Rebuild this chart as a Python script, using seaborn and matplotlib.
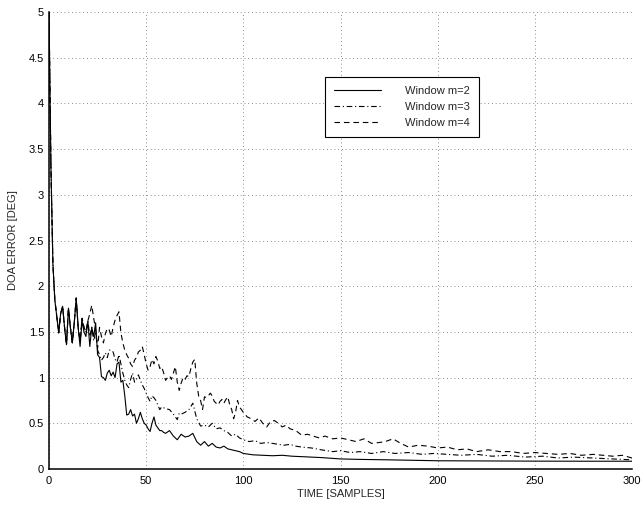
import numpy as np
import pandas as pd
import matplotlib
matplotlib.use("Agg")
import matplotlib.pyplot as plt
import seaborn as sns

# ---- data ----
t_m2 = [0, 1, 2, 3, 5, 6, 7, 8, 9, 10, 11, 12, 13, 14, 15, 16, 17, 18, 19, 20,
        21, 22, 23, 24, 25, 26, 27, 28, 29, 30, 31, 32, 33, 34, 35, 36, 37, 38, 39, 40,
        41, 42, 43, 44, 45, 46, 47, 48, 49, 50, 51, 52, 53, 54, 55, 56, 57, 58, 59, 60,
        62, 64, 66, 68, 70, 72, 74, 76, 78, 80, 82, 84, 86, 88, 90, 92, 94, 96, 98, 100,
        105, 110, 115, 120, 125, 130, 140, 150, 160, 175, 200, 225, 250, 275, 300]
err_m2 = [5.0, 3.3, 2.25, 1.85, 1.49, 1.70, 1.78, 1.55, 1.36, 1.76, 1.55, 1.38, 1.60, 1.87, 1.55, 1.34, 1.62, 1.50, 1.45, 1.62,
          1.34, 1.55, 1.45, 1.60, 1.25, 1.22, 1.01, 1.00, 0.97, 1.05, 1.08, 1.02, 1.06, 1.00, 1.15, 1.17, 0.95, 0.97, 0.80, 0.59,
          0.60, 0.65, 0.58, 0.60, 0.50, 0.55, 0.62, 0.55, 0.50, 0.48, 0.44, 0.41, 0.50, 0.57, 0.48, 0.45, 0.42, 0.42, 0.40, 0.39,
          0.42, 0.36, 0.32, 0.38, 0.35, 0.36, 0.39, 0.30, 0.26, 0.30, 0.25, 0.28, 0.24, 0.23, 0.25, 0.22, 0.21, 0.20, 0.19, 0.17,
          0.155, 0.15, 0.145, 0.15, 0.14, 0.135, 0.125, 0.11, 0.105, 0.10, 0.09, 0.088, 0.086, 0.085, 0.085]

t_m3 = [0, 1, 2, 3, 5, 6, 7, 8, 9, 10, 11, 12, 13, 14, 15, 16, 17, 18, 19, 20,
        21, 22, 23, 24, 25, 26, 27, 28, 29, 30, 31, 32, 33, 34, 35, 36, 37, 38, 39, 40,
        41, 42, 43, 44, 45, 46, 47, 48, 49, 50, 51, 52, 53, 54, 55, 56, 57, 58, 60, 62,
        64, 66, 67, 68, 70, 72, 74, 76, 78, 80, 82, 84, 86, 88, 90, 92, 94, 96, 98, 100,
        103, 106, 109, 112, 115, 118, 121, 124, 127, 130, 135, 140, 146, 150, 155, 160, 166, 172, 178, 185,
        192, 198, 205, 212, 220, 228, 236, 245, 254, 262, 270, 280, 290, 300]
err_m3 = [5.0, 3.3, 2.25, 1.85, 1.49, 1.70, 1.78, 1.55, 1.36, 1.76, 1.55, 1.38, 1.60, 1.87, 1.55, 1.40, 1.65, 1.55, 1.50, 1.62,
          1.45, 1.55, 1.40, 1.50, 1.30, 1.25, 1.19, 1.22, 1.27, 1.22, 1.30, 1.30, 1.28, 1.20, 1.17, 1.25, 1.15, 1.05, 0.97, 0.92,
          0.89, 0.98, 1.05, 0.95, 0.98, 1.03, 0.97, 0.92, 0.88, 0.83, 0.78, 0.74, 0.80, 0.78, 0.75, 0.70, 0.65, 0.68, 0.66, 0.65,
          0.60, 0.54, 0.61, 0.60, 0.62, 0.65, 0.72, 0.55, 0.47, 0.48, 0.46, 0.50, 0.44, 0.45, 0.42, 0.40, 0.36, 0.38, 0.34, 0.32,
          0.30, 0.31, 0.28, 0.29, 0.28, 0.27, 0.26, 0.27, 0.25, 0.24, 0.23, 0.21, 0.19, 0.20, 0.18, 0.19, 0.17, 0.19, 0.17, 0.18,
          0.16, 0.17, 0.16, 0.15, 0.16, 0.14, 0.15, 0.13, 0.14, 0.12, 0.13, 0.12, 0.11, 0.10]

t_m4 = [0, 1, 2, 3, 5, 6, 7, 8, 9, 10, 11, 12, 13, 14, 15, 16, 17, 18, 19, 20,
        21, 22, 23, 24, 25, 26, 27, 28, 29, 30, 31, 32, 33, 34, 35, 36, 37, 38, 39, 40,
        41, 42, 43, 44, 45, 46, 47, 48, 49, 50, 51, 52, 53, 54, 55, 56, 57, 58, 59, 60,
        61, 62, 63, 64, 65, 66, 67, 68, 69, 70, 71, 72, 73, 74, 75, 76, 77, 78, 79, 80,
        81, 82, 83, 84, 85, 86, 87, 88, 89, 90, 91, 92, 93, 94, 95, 96, 97, 98, 100, 102,
        104, 106, 108, 110, 112, 114, 116, 118, 120, 122, 124, 127, 130, 133, 136, 139, 142, 146, 150, 154,
        158, 162, 166, 170, 173, 177, 181, 185, 190, 195, 200, 205, 210, 215, 220, 226, 232, 238, 244, 250,
        256, 262, 268, 274, 280, 285, 290, 295, 300]
err_m4 = [5.0, 3.3, 2.25, 1.85, 1.49, 1.70, 1.78, 1.55, 1.36, 1.76, 1.55, 1.38, 1.60, 1.87, 1.55, 1.40, 1.65, 1.55, 1.50, 1.62,
          1.70, 1.79, 1.65, 1.52, 1.32, 1.55, 1.45, 1.38, 1.48, 1.54, 1.52, 1.45, 1.55, 1.63, 1.68, 1.72, 1.49, 1.38, 1.30, 1.25,
          1.21, 1.15, 1.12, 1.19, 1.22, 1.28, 1.30, 1.34, 1.25, 1.15, 1.08, 1.12, 1.20, 1.15, 1.23, 1.18, 1.10, 1.12, 1.05, 0.97,
          1.00, 1.02, 0.98, 1.05, 1.12, 0.95, 0.86, 0.94, 1.00, 0.98, 1.02, 1.01, 1.10, 1.17, 1.20, 0.94, 0.80, 0.75, 0.65, 0.79,
          0.78, 0.80, 0.83, 0.80, 0.74, 0.72, 0.70, 0.74, 0.76, 0.72, 0.76, 0.79, 0.70, 0.65, 0.55, 0.62, 0.75, 0.68, 0.62, 0.57,
          0.55, 0.52, 0.56, 0.50, 0.46, 0.52, 0.53, 0.50, 0.46, 0.48, 0.44, 0.42, 0.37, 0.38, 0.36, 0.34, 0.36, 0.33, 0.34, 0.32,
          0.30, 0.33, 0.28, 0.29, 0.30, 0.33, 0.28, 0.24, 0.26, 0.25, 0.23, 0.24, 0.21, 0.22, 0.19, 0.21, 0.19, 0.19, 0.17, 0.18,
          0.17, 0.16, 0.17, 0.15, 0.16, 0.15, 0.14, 0.15, 0.12]

labels = ["Window m=2", "Window m=3", "Window m=4"]
x_ticks = [0, 50, 100, 150, 200, 250, 300]
y_ticks = [0, 0.5, 1, 1.5, 2, 2.5, 3, 3.5, 4, 4.5, 5]
y_tick_labels = ["0", "0.5", "1", "1.5", "2", "2.5", "3", "3.5", "4", "4.5", "5"]
x_label = "TIME [SAMPLES]"
y_label = "DOA ERROR [DEG]"

# ---- styling ----
sns.set_style("white")
plt.rcParams["font.family"] = ["Liberation Sans", "DejaVu Sans"]

fig = plt.figure(figsize=(6.43, 5.09), dpi=100)
ax = fig.add_axes([0.0762, 0.0786, 0.9068, 0.8978])

styles = ["-", (0, (5, 2.5, 1, 2.5)), (0, (5, 3.5))]
series = [(t_m2, err_m2), (t_m3, err_m3), (t_m4, err_m4)]
for (t, e), lab, ls in zip(series, labels, styles):
    sns.lineplot(x=t, y=e, ax=ax, color="black", linewidth=0.8,
                 linestyle=ls, label=lab, estimator=None, sort=False)

ax.set_xlim(0, 300)
ax.set_ylim(0, 5)
ax.set_xticks(x_ticks)
ax.set_yticks(y_ticks)
ax.set_yticklabels(y_tick_labels)
ax.tick_params(direction="in", length=4, width=0.8, labelsize=8, colors="black")
ax.tick_params(axis="x", pad=5)
ax.tick_params(axis="y", pad=3.5)
ax.set_xlabel(x_label, fontsize=8, labelpad=2)
ax.set_ylabel(y_label, fontsize=8, labelpad=8)

for side in ["top", "right"]:
    ax.spines[side].set_visible(False)
for side in ["left", "bottom"]:
    ax.spines[side].set_color("black")
    ax.spines[side].set_linewidth(1.1)

ax.grid(True, color="#666666", linestyle=(0, (1, 3.5)), linewidth=0.6)
ax.set_axisbelow(True)

leg = ax.legend(loc="upper left", bbox_to_anchor=(0.473, 0.858),
                borderaxespad=0, fontsize=8, frameon=True, fancybox=False,
                edgecolor="black", framealpha=1, handlelength=4.3,
                handletextpad=2.1, borderpad=0.8, labelspacing=0.55)
leg.get_frame().set_linewidth(0.8)

fig.savefig("out.png", dpi=100)
